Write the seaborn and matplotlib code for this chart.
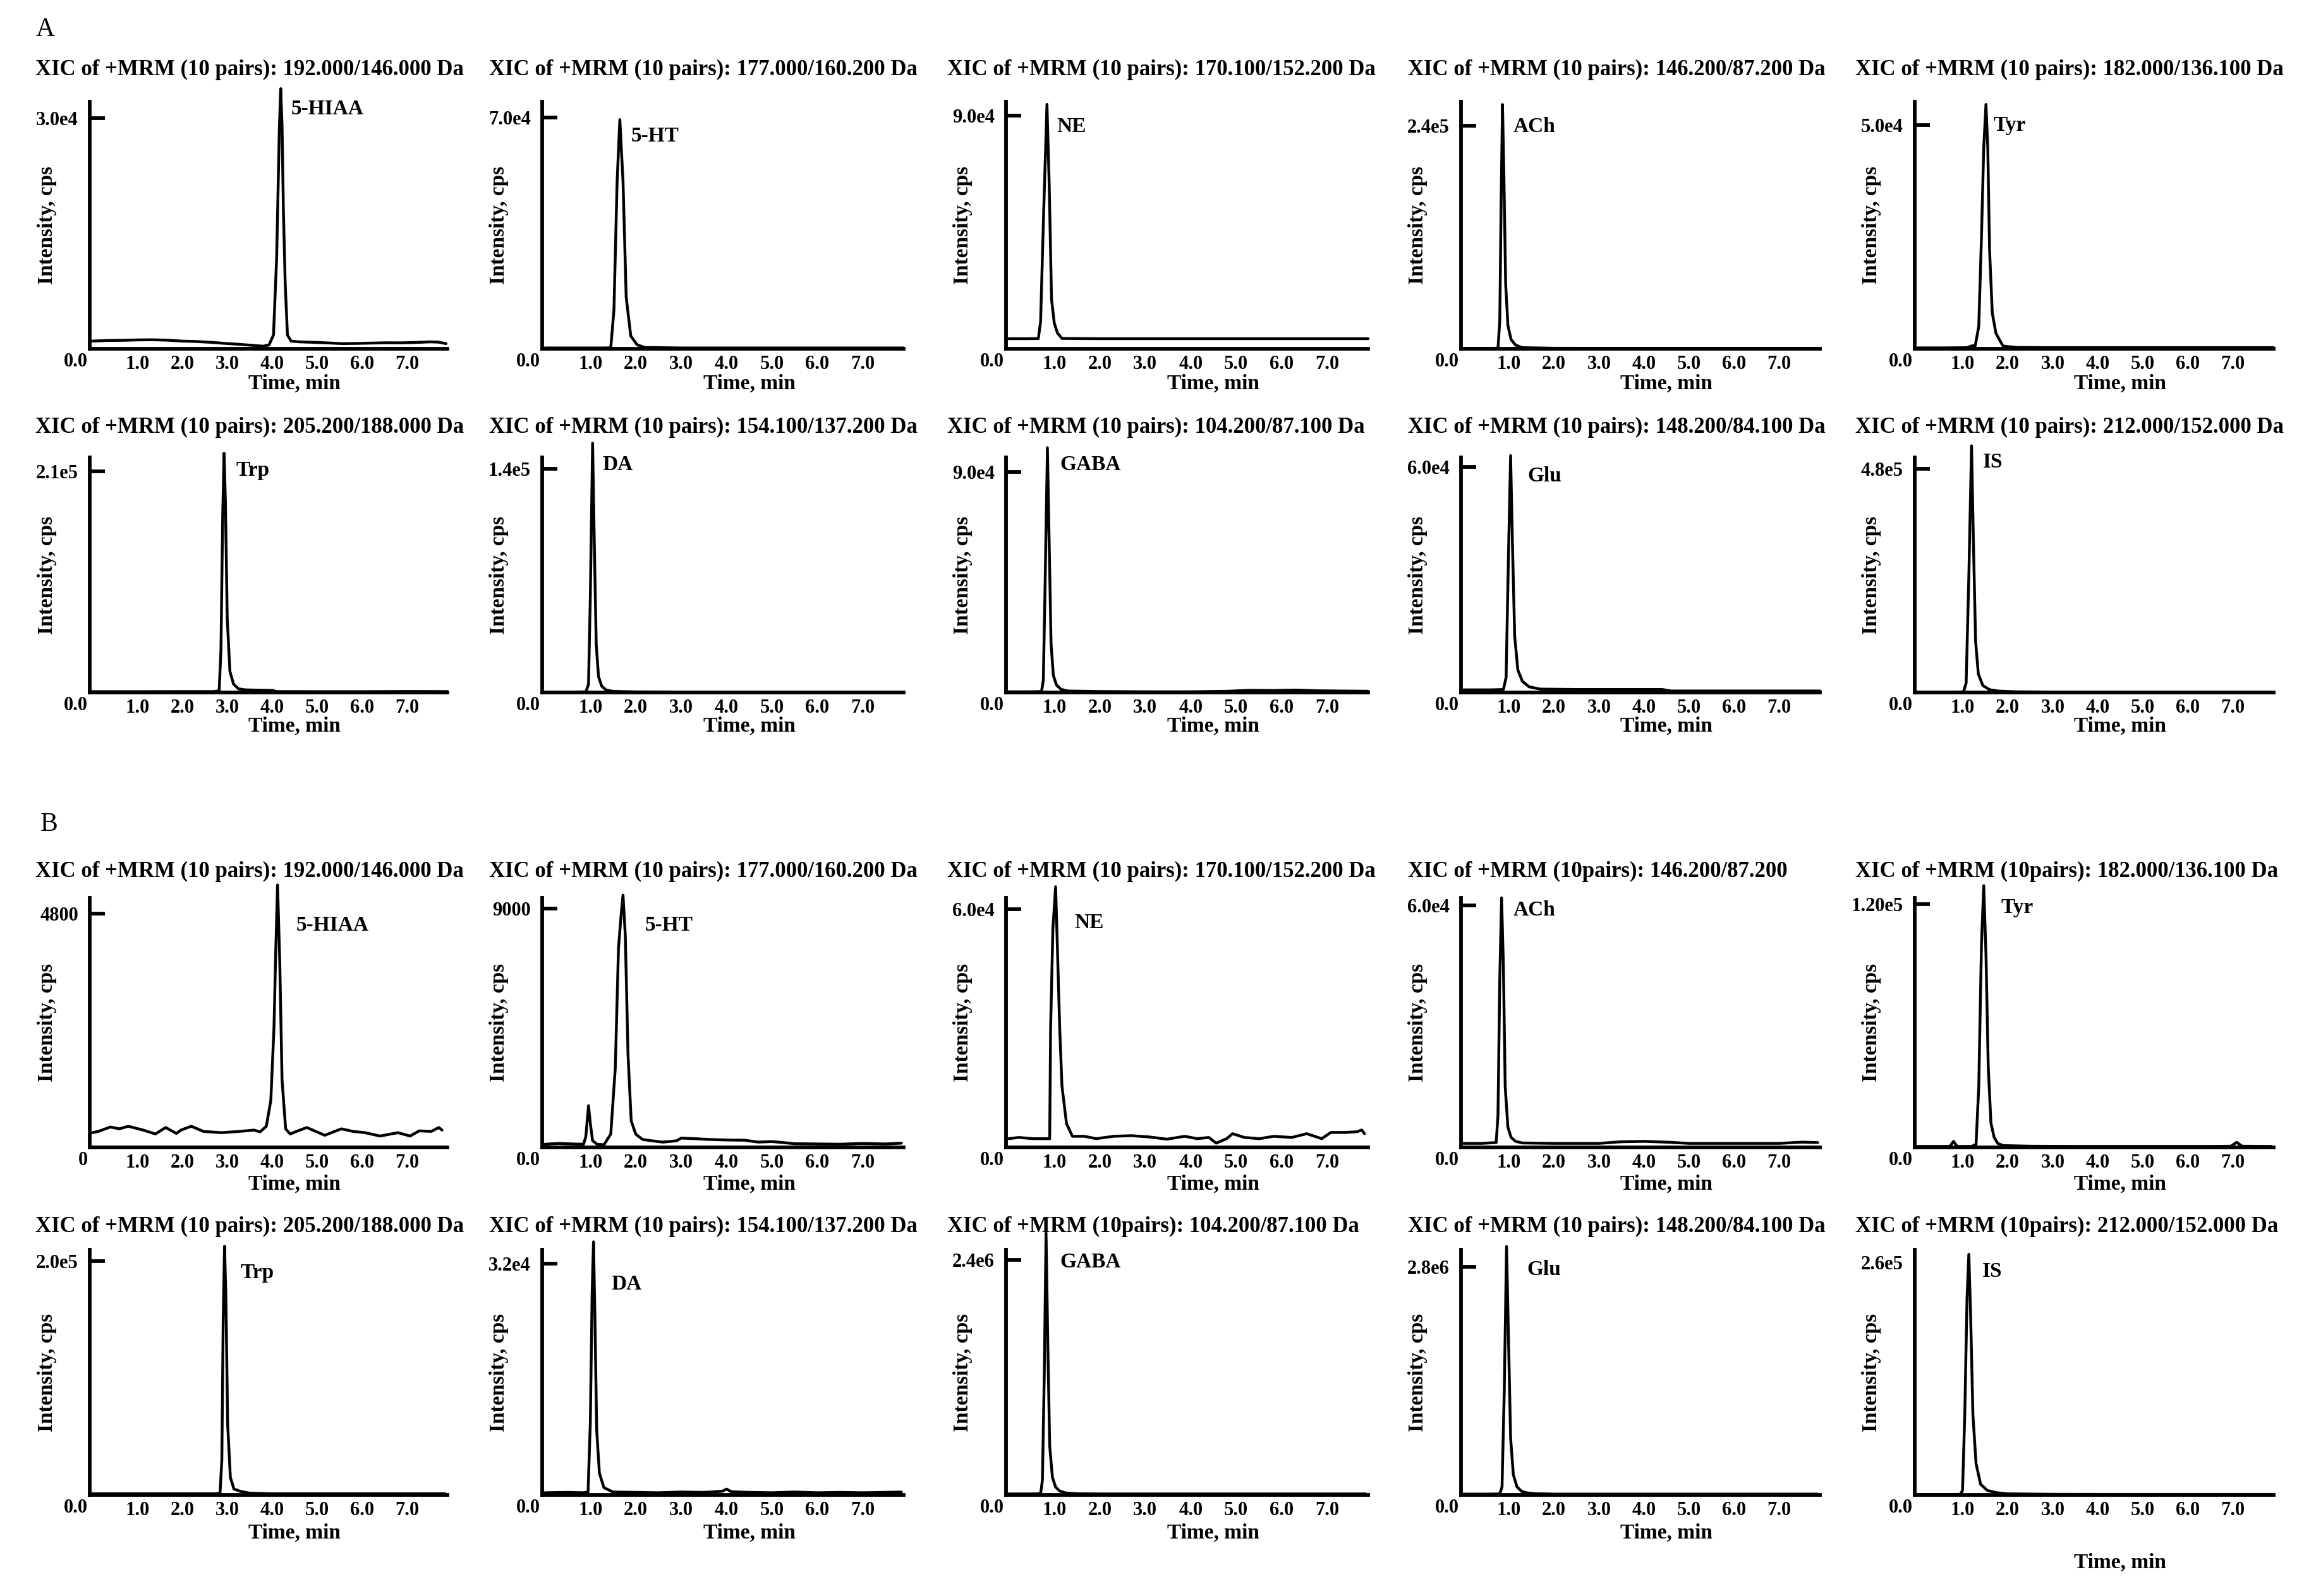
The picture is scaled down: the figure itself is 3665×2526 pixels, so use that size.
import numpy as np
import pandas as pd
import matplotlib
matplotlib.use("Agg")
import matplotlib.pyplot as plt
import seaborn as sns

sns.set_theme(style="white")
plt.rcParams['font.family'] = ['Liberation Serif', 'DejaVu Serif']
plt.rcParams['font.weight'] = 'bold'
for key in ['text.color', 'axes.labelcolor', 'xtick.color', 'ytick.color', 'axes.edgecolor']:
    plt.rcParams[key] = 'black'

# ---------------- data ----------------
# Panel A
a1_time = [0.00,0.35,0.67,1.00,1.33,1.66,1.98,2.30,2.63,2.95,3.28,3.55,3.80,3.93,4.03,4.10,4.16,4.19,4.22,4.25,4.29,4.34,4.42,4.60,4.91,5.25,5.56,5.90,6.21,6.55,6.87,7.20,7.52,7.70,7.87]
a1_int = [1000,1080,1100,1150,1170,1120,1000,950,840,700,570,450,335,500,1800,11900,28600,33800,29000,18000,8500,1800,1000,900,840,760,670,700,740,780,770,820,900,860,670]
a2_time = [0.0,0.5,1.0,1.30,1.45,1.52,1.59,1.65,1.72,1.79,1.89,2.03,2.20,3.0,4.0,5.0,6.0,7.0,7.9]
a2_int = [250,250,250,250,300,11700,50700,69400,50700,15600,3900,1200,400,250,250,250,250,250,250]
a3_time = [0.0,0.40,0.65,0.70,0.77,0.84,0.89,0.94,1.00,1.07,1.17,2.0,3.0,4.0,5.0,6.0,7.0,7.9]
a3_int = [3900,3900,3950,10500,54300,94400,63000,19300,10000,6100,4000,3900,3900,3900,3900,3900,3900,3900]
a4_time = [0.0,0.5,0.76,0.80,0.83,0.86,0.89,0.93,0.98,1.05,1.15,1.30,2.0,3.0,4.0,5.0,6.0,7.0,7.9]
a4_int = [500,500,600,30000,160000,263000,190000,70000,25000,10000,4000,1200,600,500,500,500,500,500,500]
a5_time = [0.0,0.6,1.10,1.22,1.28,1.36,1.42,1.47,1.52,1.56,1.60,1.66,1.74,1.82,1.90,2.2,3.0,4.0,5.0,6.0,7.0,7.9]
a5_int = [200,200,250,700,600,5000,25000,45000,54700,45000,22000,8000,3500,2000,600,300,250,250,250,250,250,250]
a6_time = [0.0,1.0,2.0,2.70,2.82,2.86,2.90,2.93,2.96,3.00,3.06,3.14,3.25,3.40,3.70,4.00,4.10,5.0,6.0,7.0,7.9]
a6_int = [800,800,900,900,1500,40000,170000,227000,180000,70000,20000,8000,3500,2500,2200,2000,900,800,800,1000,900]
a7_time = [0.0,0.6,0.90,0.96,1.00,1.05,1.09,1.13,1.18,1.25,1.35,1.5,2.0,3.0,4.0,5.0,6.0,7.0,7.9]
a7_int = [300,300,400,5000,60000,156000,90000,30000,10000,4000,1500,700,400,300,300,300,300,300,300]
a8_time = [0.0,0.5,0.72,0.76,0.80,0.85,0.89,0.93,0.98,1.05,1.15,1.3,2.0,3.0,4.0,4.8,5.3,5.8,6.3,6.8,7.3,7.9]
a8_int = [300,300,400,5000,45000,100000,60000,20000,7000,3000,1300,600,400,300,300,500,900,800,1000,700,600,500]
a9_time = [0.0,0.6,0.88,0.94,0.99,1.04,1.08,1.13,1.20,1.30,1.45,1.7,2.5,3.5,4.4,4.6,5.5,6.5,7.9]
a9_int = [700,700,800,4000,35000,63000,40000,15000,6000,3000,1500,900,800,800,800,400,400,400,400]
a10_time = [0.0,0.6,1.02,1.08,1.14,1.20,1.24,1.29,1.35,1.45,1.60,1.80,2.2,3.0,4.0,5.0,6.0,7.0,7.9]
a10_int = [1000,1000,1200,20000,250000,530000,330000,110000,40000,15000,6000,3000,1500,1000,1000,1000,1000,1000,1000]

# Panel B
b1_time = [0.00,0.13,0.40,0.60,0.80,1.13,1.40,1.63,1.87,1.97,2.20,2.47,2.87,3.27,3.60,3.73,3.87,3.97,4.04,4.08,4.12,4.17,4.22,4.30,4.40,4.54,4.77,4.97,5.17,5.54,5.80,6.07,6.40,6.80,7.07,7.27,7.54,7.71,7.78]
b1_int = [302,328,418,381,434,355,275,408,286,355,434,328,302,328,355,318,434,964,2446,4035,5385,3770,1387,381,275,328,408,328,249,381,328,302,233,302,233,339,328,408,355]
b2_time = [0.0,0.3,0.6,0.85,0.90,0.96,1.00,1.05,1.15,1.30,1.45,1.55,1.62,1.68,1.72,1.77,1.83,1.90,2.00,2.15,2.35,2.6,2.9,3.0,3.3,3.6,4.0,4.4,4.7,5.0,5.5,6.0,6.5,7.0,7.5,7.85]
b2_int = [120,150,130,120,400,1570,900,250,120,100,500,3000,7500,8800,9500,8000,3500,1000,500,300,250,200,250,350,330,300,280,270,200,220,140,130,120,150,130,160]
b3_time = [0.0,0.22,0.54,0.87,0.90,0.92,0.97,1.03,1.07,1.12,1.17,1.27,1.40,1.66,1.92,2.31,2.70,3.09,3.48,3.87,4.14,4.40,4.56,4.79,4.92,5.18,5.51,5.83,6.22,6.55,6.88,7.08,7.40,7.66,7.76,7.82]
b3_int = [2200,2500,2200,2200,2200,30000,55000,65600,50000,30000,15400,5960,2800,2800,2200,2800,2950,2630,2070,2800,2200,2500,1070,2200,3450,2500,2200,2800,2500,3450,2200,3760,3760,3950,4390,3450]
b4_time = [0.0,0.4,0.72,0.76,0.80,0.84,0.88,0.92,0.98,1.05,1.15,1.3,2.0,3.0,3.5,4.0,4.5,5.0,6.0,7.0,7.5,7.85]
b4_int = [1000,1000,1200,8000,42000,61900,45000,15000,5000,2500,1500,1100,1000,1000,1400,1500,1300,1000,1000,1000,1300,1200]
b5_time = [0.0,0.5,0.72,0.80,0.88,1.2,1.30,1.36,1.42,1.47,1.52,1.57,1.63,1.70,1.78,1.9,2.5,3.5,4.5,5.5,6.5,6.95,7.08,7.2,7.85]
b5_int = [500,500,500,3000,500,500,1500,30000,100000,129000,95000,40000,12000,5000,2000,900,600,500,500,500,500,600,2500,600,500]
b6_time = [0.0,1.0,2.0,2.75,2.84,2.88,2.91,2.94,2.97,3.01,3.07,3.15,3.30,3.50,4.0,5.0,6.0,7.0,7.85]
b6_int = [1000,1000,1000,1000,1500,30000,150000,213000,170000,60000,15000,5000,3000,1500,1000,1000,1000,1000,1000]
b7_time = [0.0,0.5,0.85,0.95,1.00,1.04,1.07,1.10,1.14,1.20,1.30,1.5,2.0,2.5,3.0,3.5,3.9,4.0,4.1,4.5,5.0,5.5,6.0,6.5,7.0,7.5,7.85]
b7_int = [300,350,300,400,10000,28000,35000,25000,9000,3000,1000,400,350,300,400,350,500,800,450,350,300,400,300,350,300,350,400]
b8_time = [0.0,0.5,0.70,0.74,0.78,0.82,0.86,0.90,0.96,1.03,1.12,1.25,1.5,2.0,3.0,4.0,5.0,6.0,7.0,7.85]
b8_int = [10000,10000,12000,150000,1200000,2670000,1500000,500000,180000,80000,40000,20000,12000,10000,10000,10000,10000,10000,10000,10000]
b9_time = [0.0,0.5,0.80,0.85,0.90,0.95,0.99,1.04,1.10,1.18,1.28,1.40,1.6,2.0,3.0,4.0,5.0,6.0,7.0,7.85]
b9_int = [10000,10000,12000,100000,1300000,3050000,2000000,700000,250000,100000,45000,25000,15000,10000,10000,10000,10000,10000,10000,10000]
b10_time = [0.0,0.5,0.95,1.00,1.05,1.10,1.14,1.18,1.23,1.30,1.40,1.55,1.75,2.0,3.0,4.0,5.0,6.0,7.0,7.85]
b10_int = [500,500,600,5000,90000,220000,269000,200000,90000,35000,12000,5000,2500,1200,700,600,600,600,600,600]

titles = [
    "XIC of +MRM (10 pairs): 192.000/146.000 Da",
    "XIC of +MRM (10 pairs): 177.000/160.200 Da",
    "XIC of +MRM (10 pairs): 170.100/152.200 Da",
    "XIC of +MRM (10 pairs): 146.200/87.200 Da",
    "XIC of +MRM (10 pairs): 182.000/136.100 Da",
    "XIC of +MRM (10 pairs): 205.200/188.000 Da",
    "XIC of +MRM (10 pairs): 154.100/137.200 Da",
    "XIC of +MRM (10 pairs): 104.200/87.100 Da",
    "XIC of +MRM (10 pairs): 148.200/84.100 Da",
    "XIC of +MRM (10 pairs): 212.000/152.000 Da",
    "XIC of +MRM (10 pairs): 192.000/146.000 Da",
    "XIC of +MRM (10 pairs): 177.000/160.200 Da",
    "XIC of +MRM (10 pairs): 170.100/152.200 Da",
    "XIC of +MRM (10pairs): 146.200/87.200",
    "XIC of +MRM (10pairs): 182.000/136.100 Da",
    "XIC of +MRM (10 pairs): 205.200/188.000 Da",
    "XIC of +MRM (10 pairs): 154.100/137.200 Da",
    "XIC of +MRM (10pairs): 104.200/87.100 Da",
    "XIC of +MRM (10 pairs): 148.200/84.100 Da",
    "XIC of +MRM (10pairs): 212.000/152.000 Da",
]
compounds = ["5-HIAA", "5-HT", "NE", "ACh", "Tyr", "Trp", "DA", "GABA", "Glu", "IS"] * 2
tick_values = [3.0e4, 7.0e4, 9.0e4, 2.4e5, 5.0e4, 2.1e5, 1.4e5, 9.0e4, 6.0e4, 4.8e5,
               4800, 9000, 6.0e4, 6.0e4, 1.20e5, 2.0e5, 3.2e4, 2.4e6, 2.8e6, 2.6e5]
tick_labels = ["3.0e4", "7.0e4", "9.0e4", "2.4e5", "5.0e4", "2.1e5", "1.4e5", "9.0e4", "6.0e4", "4.8e5",
               "4800", "9000", "6.0e4", "6.0e4", "1.20e5", "2.0e5", "3.2e4", "2.4e6", "2.8e6", "2.6e5"]
zero_labels = ["0.0"] * 10 + ["0"] + ["0.0"] * 9
axis_top = [3.21e4, 7.48e4, 9.54e4, 2.66e5, 5.53e4, 2.23e5, 1.47e5, 9.6e4, 6.25e4, 5.05e5,
            5120, 9400, 6.28e4, 6.19e4, 1.23e5, 2.1e5, 3.39e4, 2.5e6, 3.01e6, 2.74e5]
x_ticks = [1, 2, 3, 4, 5, 6, 7]
x_tick_labels = ["1.0", "2.0", "3.0", "4.0", "5.0", "6.0", "7.0"]

times = [a1_time, a2_time, a3_time, a4_time, a5_time, a6_time, a7_time, a8_time, a9_time, a10_time,
         b1_time, b2_time, b3_time, b4_time, b5_time, b6_time, b7_time, b8_time, b9_time, b10_time]
intensities = [a1_int, a2_int, a3_int, a4_int, a5_int, a6_int, a7_int, a8_int, a9_int, a10_int,
               b1_int, b2_int, b3_int, b4_int, b5_int, b6_int, b7_int, b8_int, b9_int, b10_int]

# ---------------- layout (pixels of the 3666x2526 canvas) ----------------
W, H, DPI = 3666, 2526, 200
col_left = [142, 858, 1592, 2312, 3030]
col_right = [708, 1430, 2165, 2880, 3598]
row_top = [161, 724, 1421, 1978]
row_bot = [552, 1096, 1816, 2366]
title_x = [56, 774, 1499, 2228, 2936]
title_y = [110, 676, 1379, 1941]
xlabel_gap = [55, 53, 58, 60]
label_pos = [(4.42, 0.97), (1.90, 0.86), (1.05, 0.90), (1.10, 0.90), (1.69, 0.905),
             (3.19, 0.944), (1.27, 0.97), (1.13, 0.97), (1.42, 0.92), (1.45, 0.98),
             (4.54, 0.89), (2.20, 0.89), (1.45, 0.90), (1.10, 0.95), (1.85, 0.96),
             (3.30, 0.907), (1.46, 0.86), (1.13, 0.95), (1.40, 0.92), (1.44, 0.91)]
XMIN, XMAX = -0.06, 7.9

fig = plt.figure(figsize=(W / DPI, H / DPI), dpi=DPI)

for k in range(20):
    r, c = divmod(k, 5)
    wpx = col_right[c] - col_left[c]
    hpx = row_bot[r] - row_top[r]
    ax = fig.add_axes([col_left[c] / W, 1 - row_bot[r] / H, wpx / W, hpx / H])
    if len(times[k]) != len(intensities[k]):
        raise ValueError(f"panel {k}: {len(times[k])} vs {len(intensities[k])}")
    df = pd.DataFrame({"Time": times[k], "Intensity": intensities[k]})
    sns.lineplot(data=df, x="Time", y="Intensity", ax=ax, color="black",
                 linewidth=1.6, estimator=None, sort=False)
    for ln in ax.lines:
        ln.set_clip_on(False)
    ax.set_xlim(XMIN, XMAX)
    ax.set_ylim(0, axis_top[k])
    ax.set_facecolor("none")

    for s in ["top", "right"]:
        ax.spines[s].set_visible(False)
    for s in ["left", "bottom"]:
        ax.spines[s].set_linewidth(2.1)
        ax.spines[s].set_color("black")

    ax.set_xticks(x_ticks)
    ax.set_xticklabels(x_tick_labels)
    ax.tick_params(axis="x", bottom=True, length=0, pad=3.5, labelsize=11)
    ax.set_yticks([tick_values[k]])
    ax.set_yticklabels([tick_labels[k]])
    ax.tick_params(axis="y", left=True, direction="in",
                   length=0 if k == 19 else 8.6, width=2.1, pad=6.5, labelsize=11)
    for lab in ax.get_xticklabels() + ax.get_yticklabels():
        lab.set_fontweight("bold")

    ax.annotate(zero_labels[k], xy=(0, 0), xycoords="axes fraction", xytext=(-1, -2),
                textcoords="offset points", ha="right", va="top", fontsize=11, fontweight="bold")

    ax.set_xlabel("Time, min", fontsize=12, fontweight="bold")
    gap = 107 if k == 19 else xlabel_gap[r]
    ax.xaxis.set_label_coords((4.5 - XMIN) / (XMAX - XMIN), -gap / hpx)
    ax.xaxis.label.set_va("center")
    ax.set_ylabel("Intensity, cps", fontsize=12, fontweight="bold")
    ax.yaxis.set_label_coords(-68 / wpx, 0.5)
    ax.yaxis.label.set_va("center")

    lx, ly = label_pos[k]
    ax.text(lx, ly, compounds[k], transform=ax.get_xaxis_transform(), ha="left", va="center",
            fontsize=12, fontweight="bold")

    fig.text(title_x[c] / W, 1 - title_y[r] / H, titles[k], ha="left", va="center",
             fontsize=12.5, fontweight="bold")

fig.text(57 / W, 1 - 47 / H, "A", ha="left", va="center", fontsize=15, fontweight="normal")
fig.text(64 / W, 1 - 1305 / H, "B", ha="left", va="center", fontsize=15, fontweight="normal")

fig.savefig("out.png", dpi=DPI, facecolor="white")
